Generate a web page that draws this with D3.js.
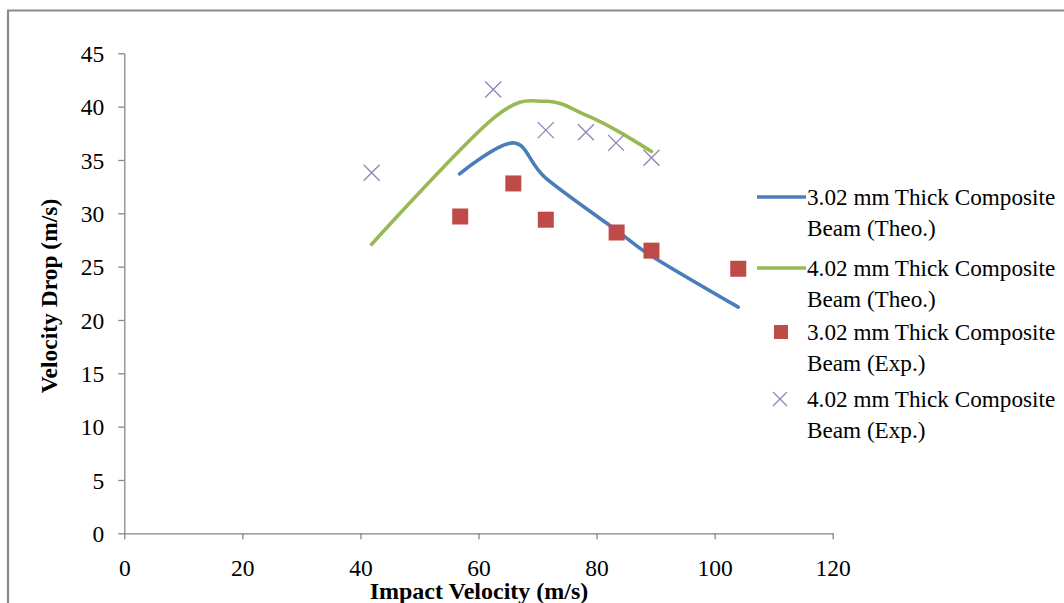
<!DOCTYPE html>
<html>
<head>
<meta charset="utf-8">
<script src="https://cdn.jsdelivr.net/npm/d3@7"></script>
<style>
  body { margin: 0; background: #fff; }
  svg { display: block; }
  text { font-family: "Liberation Serif", "Times New Roman", serif; fill: #000; }
  .axis path, .axis line { stroke: #868686; stroke-width: 1.3; }
  .axis text { font-size: 23.5px; font-family: "Liberation Serif", serif; }
</style>
</head>
<body>
<div id="vis"></div>
<script>
// values
var theo302X = [56.8, 65.9, 71.4, 83.4, 89.3, 104.0];
var theo302Y = [33.7, 36.6, 33.3, 28.4, 26.0, 21.2];
var theo402X = [41.9, 62.5, 71.4, 78.2, 83.3, 89.3];
var theo402Y = [27.1, 38.9, 40.5, 39.2, 37.8, 35.8];
var exp302X = [56.9, 65.9, 71.4, 83.4, 89.3, 104.0];
var exp302Y = [29.7, 32.8, 29.4, 28.2, 26.5, 24.8];
var exp402X = [41.9, 62.5, 71.4, 78.2, 83.3, 89.3];
var exp402Y = [33.8, 41.6, 37.8, 37.6, 36.6, 35.2];

var xTicks = [0, 20, 40, 60, 80, 100, 120];
var yTicks = [0, 5, 10, 15, 20, 25, 30, 35, 40, 45];

var legendLabels = [
  ["3.02 mm Thick Composite", "Beam (Theo.)"],
  ["4.02 mm Thick Composite", "Beam (Theo.)"],
  ["3.02 mm Thick Composite", "Beam (Exp.)"],
  ["4.02 mm Thick Composite", "Beam (Exp.)"]
];

var width = 1064, height = 603;

var svg = d3.select("#vis")
  .append("svg")
  .attr("width", width)
  .attr("height", height);

// outer frame (only top and left edges show in the picture)
svg.append("path")
  .attr("d", "M8,603 L8,10.5 L1064,10.5")
  .attr("fill", "none")
  .attr("stroke", "#8a8a8a")
  .attr("stroke-width", 2.2);

var x = d3.scaleLinear().domain([0, 120]).range([124.3, 832.7]);
var y = d3.scaleLinear().domain([0, 45]).range([533.3, 53.3]);

var xAxis = svg.append("g")
  .attr("class", "axis")
  .attr("transform", "translate(0," + y(0) + ")")
  .call(d3.axisBottom(x).tickValues(xTicks).tickSize(6).tickSizeOuter(0).tickPadding(20));

var yAxis = svg.append("g")
  .attr("class", "axis")
  .attr("transform", "translate(" + x(0) + ",0)")
  .call(d3.axisLeft(y).tickValues(yTicks).tickSize(6).tickSizeOuter(0).tickPadding(14));

xAxis.selectAll("text").attr("dy", "0.71em");
yAxis.selectAll("text").attr("dy", "0.35em");

// axis titles
svg.append("text")
  .attr("x", 479)
  .attr("y", 599)
  .attr("text-anchor", "middle")
  .style("font-size", "24px")
  .style("font-weight", "bold")
  .text("Impact Velocity (m/s)");

svg.append("text")
  .attr("transform", "translate(57," + 296 + ") rotate(-90)")
  .attr("text-anchor", "middle")
  .style("font-size", "23.5px")
  .style("font-weight", "bold")
  .text("Velocity Drop (m/s)");

var blue = "#4a7ebb", green = "#98b954", red = "#be4b48", purple = "#8d84b8";

var line = d3.line()
  .x(function(d) { return x(d[0]); })
  .y(function(d) { return y(d[1]); })
  .curve(d3.curveCardinal.tension(0));

var theo302 = theo302X.map(function(v, i) { return [v, theo302Y[i]]; });
var theo402 = theo402X.map(function(v, i) { return [v, theo402Y[i]]; });
var exp302 = exp302X.map(function(v, i) { return [v, exp302Y[i]]; });
var exp402 = exp402X.map(function(v, i) { return [v, exp402Y[i]]; });

svg.append("path")
  .datum(theo302)
  .attr("d", line)
  .attr("fill", "none")
  .attr("stroke", blue)
  .attr("stroke-width", 3.6)
  .attr("stroke-linecap", "round");

svg.append("path")
  .datum(theo402)
  .attr("d", line)
  .attr("fill", "none")
  .attr("stroke", green)
  .attr("stroke-width", 3.6)
  .attr("stroke-linecap", "round");

var sq = 16;
svg.selectAll(".sq")
  .data(exp302)
  .enter()
  .append("rect")
  .attr("class", "sq")
  .attr("x", function(d) { return x(d[0]) - sq / 2; })
  .attr("y", function(d) { return y(d[1]) - sq / 2; })
  .attr("width", sq)
  .attr("height", sq)
  .attr("fill", red);

function cross(g, cx, cy, r) {
  g.append("path")
    .attr("d", "M" + (cx - r) + "," + (cy - r) + "L" + (cx + r) + "," + (cy + r) +
               "M" + (cx - r) + "," + (cy + r) + "L" + (cx + r) + "," + (cy - r))
    .attr("stroke", purple)
    .attr("stroke-width", 1.3)
    .attr("fill", "none");
}

exp402.forEach(function(d) { cross(svg, x(d[0]), y(d[1]), 8); });

// legend
var legend = svg.append("g");
var baseY = [205, 276, 340, 407];

legendLabels.forEach(function(lbl, i) {
  var by = baseY[i];
  var my = by - 8;
  if (i === 0 || i === 1) {
    legend.append("line")
      .attr("x1", 757).attr("x2", 806)
      .attr("y1", my).attr("y2", my)
      .attr("stroke", i === 0 ? blue : green)
      .attr("stroke-width", 3.6);
  } else if (i === 2) {
    legend.append("rect")
      .attr("x", 781 - 7).attr("y", my - 7)
      .attr("width", 14).attr("height", 14)
      .attr("fill", red);
  } else {
    cross(legend, 780, my, 7);
  }
  var t = legend.append("text")
    .attr("x", 807)
    .attr("y", by)
    .style("font-size", "23.2px");
  t.append("tspan").attr("x", 807).text(lbl[0]);
  t.append("tspan").attr("x", 807).attr("dy", 31).text(lbl[1]);
});
</script>
</body>
</html>
